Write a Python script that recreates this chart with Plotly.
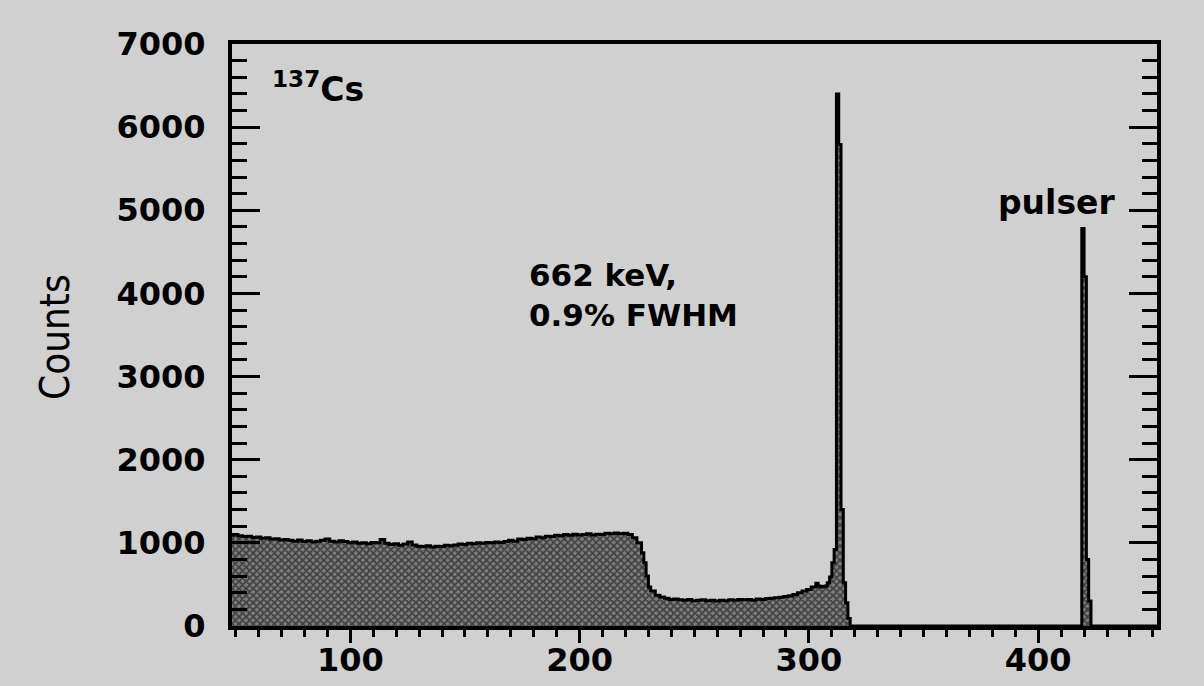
import plotly.graph_objects as go

# ---- data ----
channels = [
    47, 49, 51, 53, 55, 57, 59, 61, 63, 65, 67, 69, 71, 73, 75, 77, 79, 81, 83, 85,
    87, 89, 91, 93, 95, 97, 99, 101, 103, 105, 107, 109, 111, 113, 115, 117, 119, 121, 123, 125,
    127, 129, 131, 133, 135, 137, 139, 141, 143, 145, 147, 149, 151, 153, 155, 157, 159, 161, 163, 165,
    167, 169, 171, 173, 175, 177, 179, 181, 183, 185, 187, 189, 191, 193, 195, 197, 199, 201, 203, 205,
    207, 209, 211, 213, 215, 217, 219, 221,
    223, 225, 227, 228, 229, 230, 231, 233, 235, 237, 239, 241, 243, 245, 247, 249, 251, 253, 255, 257,
    259, 261, 263, 265, 267, 269, 271, 273, 275, 277, 279, 281, 283, 285, 287, 289, 291, 293, 295, 297,
    299, 301, 303, 304, 305, 306, 307, 308, 309, 310, 311, 312, 313, 314, 315, 316, 317, 318,
    417, 418, 419, 420, 421, 422, 423, 452,
]
counts = [
    1090, 1100, 1085, 1075, 1080, 1065, 1070, 1055, 1060, 1045, 1050, 1035, 1040, 1030, 1020, 1035, 1015, 1025, 1010, 1020,
    1030, 1045, 1020, 1010, 1025, 1015, 1000, 1010, 995, 1000, 990, 1005, 1000, 1040, 995, 980, 990, 970, 985, 1010,
    975, 960, 955, 965, 950, 960, 955, 970, 965, 975, 985, 980, 995, 990, 1000, 995, 1005, 1000, 1010, 1005,
    1015, 1030, 1020, 1045, 1040, 1055, 1050, 1070, 1060, 1080, 1075, 1090, 1085, 1100, 1090, 1105, 1095, 1100, 1110, 1095,
    1105, 1100, 1115, 1110, 1120, 1110, 1115, 1100,
    1060, 1000, 880, 760, 600, 470, 420, 370, 350, 335, 320, 325, 315, 310, 320, 305, 310, 315, 305, 310,
    300, 310, 305, 315, 310, 320, 315, 320, 310, 325, 320, 330, 335, 340, 345, 355, 365, 380, 400, 420,
    440, 470, 515, 480, 470, 475, 480, 520, 590, 760, 920, 6400, 5790, 1400, 520, 280, 90, 0,
    0, 0, 4780, 4200, 800, 300, 0, 0,
]

x_range = [48.4, 451.8]
y_range = [0, 7000]
x_ticks = [100, 200, 300, 400]
y_ticks = [0, 1000, 2000, 3000, 4000, 5000, 6000, 7000]

BG = "#d0d0d0"
FONT = dict(family="DejaVu Sans", size=32, color="black", weight="bold")

fig = go.Figure()
fig.add_trace(go.Scatter(
    x=channels, y=counts, mode="lines",
    line=dict(color="black", width=3, shape="hv"),
    fill="tozeroy", fillcolor="#6e6e6e",
    fillpattern=dict(shape="x", fgcolor="black", bgcolor="#7c7c7c", size=5, solidity=0.55),
    hoverinfo="skip", showlegend=False,
))

fig.update_layout(
    width=1204, height=686,
    margin=dict(l=232, r=47, t=44, b=60, autoexpand=False),
    paper_bgcolor=BG, plot_bgcolor=BG,
    showlegend=False,
    xaxis=dict(
        range=x_range, showgrid=False, zeroline=False, automargin=False,
        showline=True, linewidth=4, linecolor="black", mirror=True,
        ticks="outside", ticklen=13, tickwidth=3, tickcolor="black",
        tickmode="array", tickvals=x_ticks, ticktext=[str(v) for v in x_ticks],
        minor=dict(dtick=10, tick0=0, ticks="outside", ticklen=7, tickwidth=3, tickcolor="black"),
        tickfont=FONT, ticklabelstandoff=-10,
    ),
    yaxis=dict(
        range=y_range, showgrid=False, zeroline=False, automargin=False,
        showline=True, linewidth=4, linecolor="black", mirror="ticks",
        ticks="inside", ticklen=28, tickwidth=3, tickcolor="black",
        tickmode="array", tickvals=y_ticks, ticktext=[str(v) for v in y_ticks],
        minor=dict(dtick=200, tick0=0, ticks="inside", ticklen=15, tickwidth=2.5, tickcolor="black"),
        tickfont=FONT, ticklabelstandoff=16,
    ),
    annotations=[
        dict(x=64.9, y=6471, xref="x", yref="y", xanchor="left", yanchor="middle",
             text="<sup>137</sup>Cs", showarrow=False, font=dict(FONT, size=33)),
        dict(x=176.9, y=3981, xref="x", yref="y", xanchor="left", yanchor="middle", align="left",
             text="662 keV,<br>0.9% FWHM", showarrow=False, font=dict(FONT, size=31)),
        dict(x=434.5, y=5088, xref="x", yref="y", xanchor="right", yanchor="middle",
             text="pulser", showarrow=False, font=dict(FONT, size=33)),
        dict(x=-0.1914, y=0.4966, xref="paper", yref="paper", xanchor="center", yanchor="middle",
             text="Counts", textangle=-90, showarrow=False,
             font=dict(family="DejaVu Sans Condensed, Liberation Sans Narrow, Liberation Sans, sans-serif",
                       size=40, color="black")),
    ],
)

fig.write_html("out.html")
